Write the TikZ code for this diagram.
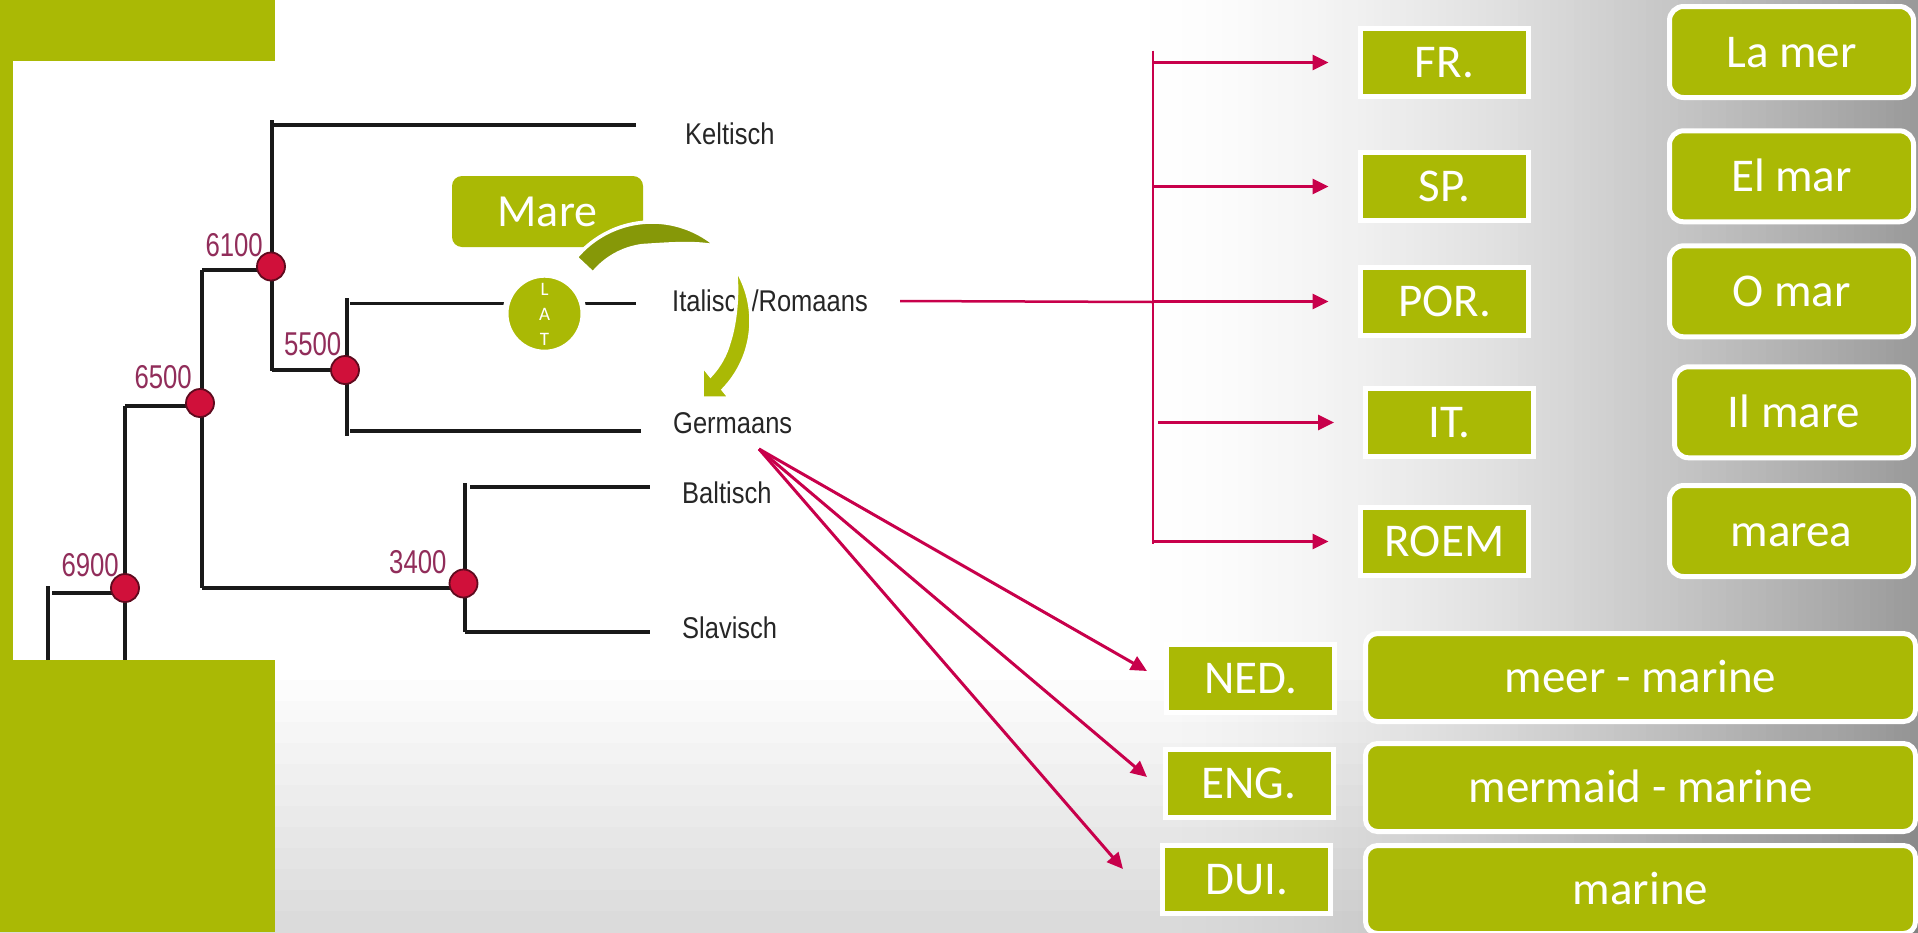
\documentclass[tikz,border=0pt]{standalone}
\usepackage{fontspec}
\setmainfont{Carlito}
\newfontfamily\arialf{Liberation Sans}
\usepackage{graphicx}
\usetikzlibrary{arrows.meta,calc}
\definecolor{lgreen}{RGB}{170,185,5}
\definecolor{dolive}{RGB}{134,152,8}
\definecolor{lred}{RGB}{200,0,75}
\definecolor{ndred}{RGB}{208,16,58}
\definecolor{ndline}{RGB}{95,10,30}
\definecolor{numcol}{RGB}{145,45,90}
\begin{document}
\begin{tikzpicture}[x=1pt,y=-1pt,
  tline/.style={line width=3.4pt, black!90},
  tnode/.style={circle, fill=ndred, draw=ndline, line width=1.8pt, minimum size=28pt, inner sep=0pt},
  num/.style={anchor=base east, text=numcol, font=\arialf\fontsize{33}{33}\selectfont, inner sep=0pt},
  lang/.style={anchor=base west, text=black!85, font=\arialf\fontsize{30}{30}\selectfont, inner sep=0pt},
  cbox/.style={fill=lgreen, draw=white, line width=5pt, minimum width=168pt, minimum height=68pt, text=white, font=\fontsize{47}{47}\selectfont, inner sep=0pt, text height=30pt, text depth=0pt},
  wbox/.style={fill=lgreen, draw=white, line width=5pt, rounded corners=14pt, text=white, font=\fontsize{47}{47}\selectfont, inner sep=0pt, text height=30pt, text depth=0pt},
  latletter/.style={text=white, font=\fontsize{19}{19}\selectfont, inner sep=0pt, text height=12pt, text depth=0pt},
  redline/.style={lred, line width=2.5pt},
  redarrow/.style={lred, line width=3pt, -{Triangle[length=16pt,width=15pt]}},
]
\clip (0,0) rectangle (1918,932);
% background: white, darkening to the right and towards the bottom
\fill[white] (0,0) rectangle (1918,932);
\foreach \i in {0,...,95}{
  \pgfmathsetmacro\tt{(\i+0.5)/96}
  \pgfmathtruncatemacro\gg{255-101*(\tt^1.5)}
  \definecolor{bgtmp}{RGB}{\gg,\gg,\gg}
  \fill[bgtmp] (1150+8*\i,0) rectangle (1920,934);
}
\foreach \j in {0,...,11}{
  \fill[black, opacity=0.01] (0,680+21*\j) rectangle (1920,934);
}
\fill[lgreen] (0,0) rectangle (275,932);
\fill[white] (13,61) rectangle (900,660);
% tree lines
\draw[tline] (48,586) -- (48,660);
\draw[tline] (52,593) -- (125,593);
\draw[tline] (125,406) -- (125,660);
\draw[tline] (125,406) -- (200,406);
\draw[tline] (202,270) -- (202,588);
\draw[tline] (202,270) -- (271,270);
\draw[tline] (272,120) -- (272,371);
\draw[tline] (272,125) -- (636,125);
\draw[tline] (272,370) -- (345,370);
\draw[tline] (347,298) -- (347,436);
\draw[tline] (350,303.6) -- (636,303.6);
\draw[tline] (350,431) -- (641,431);
\draw[tline] (202,588) -- (463,588);
\draw[tline] (465,483) -- (465,632);
\draw[tline] (470,487) -- (650,487);
\draw[tline] (465,632) -- (650,632);
% tree nodes
\node[tnode] (n6900) at (125,588) {};
\node[tnode] (n6500) at (200,403) {};
\node[tnode] (n6100) at (271,266.5) {};
\node[tnode] (n5500) at (345,370) {};
\node[tnode] (n3400) at (463.5,583.5) {};
% numbers
\node[num] (l6100) at (263,256.7) {\scalebox{0.78}[1]{6100}};
\node[num] (l5500) at (341.5,355) {\scalebox{0.78}[1]{5500}};
\node[num] (l6500) at (192,388.4) {\scalebox{0.78}[1]{6500}};
\node[num] (l6900) at (119,576) {\scalebox{0.78}[1]{6900}};
\node[num] (l3400) at (446.7,573.3) {\scalebox{0.78}[1]{3400}};
% language labels
\node[lang] (kelt) at (685,144.3) {\scalebox{0.85}[1]{Keltisch}};
\node[lang] (ital) at (672,311) {\scalebox{0.85}[1]{Italisch/Romaans}};
\node[lang] (germ) at (673,433) {\scalebox{0.85}[1]{Germaans}};
\node[lang] (balt) at (682,503.3) {\scalebox{0.85}[1]{Baltisch}};
\node[lang] (slav) at (682,638) {\scalebox{0.85}[1]{Slavisch}};
% LAT circle
\node[circle, fill=lgreen, draw=white, line width=6pt, minimum size=78pt, inner sep=0pt] (lat) at (544.5,313.7) {};
\node[latletter] (latL) at (544.5,289) {L};
\node[latletter] (latA) at (544.5,314) {A};
\node[latletter] (latT) at (544.5,339) {T};
% Mare box
\node[fill=lgreen, rounded corners=10pt, minimum width=191pt, minimum height=71pt, text=white, font=\fontsize{46}{46}\selectfont, inner sep=0pt, text height=29pt, text depth=0pt] (mare) at (547.5,211.5) {Mare};
% curved arrow
\coordinate (C) at (652,321);
\filldraw[fill=dolive, draw=white, line width=3.5pt]
  ($(C)+(-140:99)$) arc[start angle=-140, end angle=-49, radius=99]
  .. controls ($(C)+(-62:90)$) and ($(C)+(-80:78)$) .. ($(C)+(-97:76)$)
  arc[start angle=-97, end angle=-141, radius=76] -- cycle;
\filldraw[fill=lgreen, draw=white, line width=3.5pt]
  ($(C)+(-33:99)$) arc[start angle=-33, end angle=44, radius=99]
  -- (730,398) -- (702,398) -- (702,365) -- ($(C)+(43:80)$)
  arc[start angle=43, end angle=15, radius=80]
  .. controls ($(C)+(0:84)$) and ($(C)+(-20:92)$) .. ($(C)+(-33:99)$) -- cycle;
% boxes
\node[cbox] (fr) at (1444.5,62.5) {FR.};
\node[cbox] (sp) at (1444.5,186.5) {SP.};
\node[cbox] (por) at (1444.5,301.5) {POR.};
\node[cbox] (it) at (1449.5,422.5) {IT.};
\node[cbox] (roem) at (1444.5,541.5) {ROEM};
\node[cbox] (ned) at (1250.5,678.4) {NED.};
\node[cbox] (eng) at (1249,783.4) {ENG.};
\node[cbox] (dui) at (1246.5,879.5) {DUI.};
\node[wbox, minimum width=244pt, minimum height=91pt] (lamer) at (1791.5,52) {La mer};
\node[wbox, minimum width=244pt, minimum height=91pt] (elmar) at (1791.5,176.3) {El mar};
\node[wbox, minimum width=244pt, minimum height=91pt] (omar) at (1791.5,291.3) {O mar};
\node[wbox, minimum width=239pt, minimum height=91pt] (ilmare) at (1794,412.3) {Il mare};
\node[wbox, minimum width=244pt, minimum height=91pt] (marea) at (1791.5,531) {marea};
\node[wbox, rounded corners=12pt, minimum width=550pt, minimum height=88pt] (meer) at (1640.5,677.5) {meer - marine};
\node[wbox, rounded corners=12pt, minimum width=550pt, minimum height=88pt] (mermaid) at (1640.5,787.5) {mermaid - marine};
\node[wbox, rounded corners=12pt, minimum width=550pt, minimum height=88pt] (marine) at (1640.5,889.5) {marine};
% red connectors
\coordinate (iStart) at (900,301);
\coordinate (barMid) at (1153,302);
\coordinate (barTop) at (1153,50.7);
\coordinate (barBot) at (1153,544);
\draw[redline] (iStart) -- (barMid);
\draw[lred, line width=2pt] (barTop) -- (barBot);
\coordinate (bFR) at (1153,62.5);
\coordinate (bSP) at (1153,186.5);
\coordinate (bPOR) at (1153,301.5);
\coordinate (bIT) at (1158,422.5);
\coordinate (bROEM) at (1153,541.5);
\draw[redarrow, shorten >=29.5pt] (bFR) -- (fr);
\draw[redarrow, shorten >=29.5pt] (bSP) -- (sp);
\draw[redarrow, shorten >=29.5pt] (bPOR) -- (por);
\draw[redarrow, shorten >=29pt] (bIT) -- (it);
\draw[redarrow, shorten >=29.5pt] (bROEM) -- (roem);
\coordinate (gsrc) at (759,449);
\coordinate (tNED) at (1147,671);
\coordinate (tENG) at (1147,777);
\coordinate (tDUI) at (1123,869);
\draw[redarrow] (gsrc) -- (tNED);
\draw[redarrow] (gsrc) -- (tENG);
\draw[redarrow] (gsrc) -- (tDUI);
\end{tikzpicture}
\end{document}
